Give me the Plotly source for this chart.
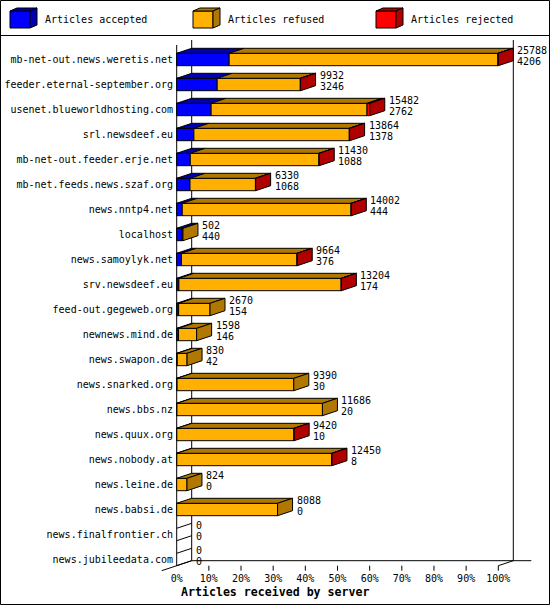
import plotly.graph_objects as go

servers = [
    'mb-net-out.news.weretis.net', 'feeder.eternal-september.org',
    'usenet.blueworldhosting.com', 'srl.newsdeef.eu',
    'mb-net-out.feeder.erje.net', 'mb-net.feeds.news.szaf.org',
    'news.nntp4.net', 'localhost', 'news.samoylyk.net', 'srv.newsdeef.eu',
    'feed-out.gegeweb.org', 'newnews.mind.de', 'news.swapon.de',
    'news.snarked.org', 'news.bbs.nz', 'news.quux.org', 'news.nobody.at',
    'news.leine.de', 'news.babsi.de', 'news.finalfrontier.ch',
    'news.jubileedata.com',
]
offered = [25788, 9932, 15482, 13864, 11430, 6330, 14002, 502, 9664, 13204,
           2670, 1598, 830, 9390, 11686, 9420, 12450, 824, 8088, 0, 0]
accepted = [4206, 3246, 2762, 1378, 1088, 1068, 444, 440, 376, 174,
            154, 146, 42, 30, 20, 10, 8, 0, 0, 0, 0]
refused = [21552, 6666, 12500, 12461, 10322, 5247, 13538, 62, 9273, 13015,
           2516, 1452, 788, 9360, 11666, 9400, 12430, 824, 8088, 0, 0]
rejected = [30, 20, 220, 25, 20, 15, 20, 0, 15, 15,
            0, 0, 0, 0, 0, 10, 12, 0, 0, 0, 0]
x_ticks = [0, 10, 20, 30, 40, 50, 60, 70, 80, 90, 100]

W, H = 550, 605
L, R, T, B = 157, 545, 38, 571      # plot area in px
X0_PX, PCT_PX = 176.7, 3.216        # where 0% sits, px per 1%
Y0_PX, ROW_PX = 59.5, 25.0          # first row centre, px per row
DX = 15 / PCT_PX                    # 3d depth, in % units
DY = 5 / ROW_PX                     # 3d rise, in row units
HALF = 6.2 / ROW_PX                 # half height of a bar front

colors = {'acc': '#0000ff', 'ref': '#ffb000', 'rej': '#ff0000'}
dark = {'acc': '#0000b0', 'ref': '#b07800', 'rej': '#b00000'}
FONT = 'DejaVu Sans Mono'

peak = max(offered)


def pct(v):
    return v * 100.0 / peak


def px_x(p):
    return (p - L) / (R - L)


def px_y(p):
    return (B - p) / (B - T)


def add_poly(store, xs, ys):
    store[0].extend(xs + [None])
    store[1].extend(ys + [None])


fronts = {k: ([], []) for k in colors}
tops = {k: ([], []) for k in colors}
sides = {k: ([], []) for k in colors}
empty = ([], [])

for i in range(len(servers)):
    a, r, j = pct(accepted[i]), pct(refused[i]), pct(rejected[i])
    segs = [('acc', 0, a), ('ref', a, a + r), ('rej', a + r, a + r + j)]
    yt, yb = i - HALF, i + HALF
    last = None
    for key, lo, hi in segs:
        if hi <= lo:
            continue
        last = (key, hi)
        add_poly(fronts[key], [lo, hi, hi, lo, lo], [yb, yb, yt, yt, yb])
        add_poly(tops[key], [lo, hi, hi + DX, lo + DX, lo],
                 [yt, yt, yt - DY, yt - DY, yt])
    if last is None:
        add_poly(empty, [0, DX], [yt, yt - DY])
        add_poly(empty, [0, DX], [yb, yb - DY])
    else:
        key, e = last
        add_poly(sides[key], [e, e + DX, e + DX, e, e],
                 [yb, yb - DY, yt - DY, yt, yb])

floor = len(servers) - 1 + HALF
back_top = (40 - Y0_PX) / ROW_PX
frame = ([], [])
add_poly(frame, [0, 0], [back_top + DY, floor])
add_poly(frame, [DX, DX], [back_top, floor - DY])
add_poly(frame, [100 + DX, 100 + DX], [back_top, floor - DY])
add_poly(frame, [DX, 100 + DX + 18 / PCT_PX], [floor - DY, floor - DY])
add_poly(frame, [-DX, DX], [floor + DY, floor - DY])
add_poly(frame, [100, 100 + DX], [floor, floor - DY])
for t in x_ticks[1:]:
    add_poly(frame, [t, t], [floor, floor + DY])

fig = go.Figure()
line = dict(color='black', width=1)
fig.add_trace(go.Scatter(x=frame[0], y=frame[1], mode='lines', line=line,
                         hoverinfo='skip'))
fig.add_trace(go.Scatter(x=empty[0], y=empty[1], mode='lines', line=line,
                         hoverinfo='skip'))
for group, palette in ((fronts, colors), (tops, dark), (sides, dark)):
    for key in colors:
        xs, ys = group[key]
        if not xs:
            continue
        fig.add_trace(go.Scatter(x=xs, y=ys, mode='lines', fill='toself',
                                 fillcolor=palette[key], line=line,
                                 hoverinfo='skip'))

annotations = []
for i in range(len(servers)):
    xe = pct(offered[i]) + DX
    for txt, dy in ((offered[i], -8.8), (accepted[i], 2.2)):
        annotations.append(dict(x=xe, y=i + dy / ROW_PX, xref='x', yref='y',
                                text=str(txt), showarrow=False,
                                xanchor='left', yanchor='middle', xshift=2,
                                font=dict(family=FONT, size=10, color='black')))

annotations.append(dict(x=px_x(274.5), y=px_y(591.5), xref='paper',
                        yref='paper', text='<b>Articles received by server</b>',
                        showarrow=False, xanchor='center', yanchor='middle',
                        font=dict(family=FONT, size=11.6, color='black')))

# legend: little 3d cubes plus labels
shapes = []
legend = [('acc', 10, 'Articles accepted', 42.5),
          ('ref', 193, 'Articles refused', 225.5),
          ('rej', 376, 'Articles rejected', 408.5)]
for key, cx, label, tx in legend:
    cy, cw, ch, cd, cr = 11, 20, 17, 7, 3

    def path(pts):
        return 'M ' + ' L '.join(f'{px_x(px)},{px_y(py)}' for px, py in pts) + ' Z'

    shapes.append(dict(type='path', xref='paper', yref='paper',
                       path=path([(cx, cy), (cx + cw, cy), (cx + cw, cy + ch), (cx, cy + ch)]),
                       fillcolor=colors[key], line=line))
    shapes.append(dict(type='path', xref='paper', yref='paper',
                       path=path([(cx, cy), (cx + cd, cy - cr), (cx + cw + cd, cy - cr), (cx + cw, cy)]),
                       fillcolor=dark[key], line=line))
    shapes.append(dict(type='path', xref='paper', yref='paper',
                       path=path([(cx + cw, cy), (cx + cw + cd, cy - cr),
                                  (cx + cw + cd, cy + ch - cr), (cx + cw, cy + ch)]),
                       fillcolor=dark[key], line=line))
    annotations.append(dict(x=px_x(tx), y=px_y(20), xref='paper', yref='paper',
                            text=label, showarrow=False, xanchor='left',
                            yanchor='middle',
                            font=dict(family=FONT, size=10, color='black')))

shapes.append(dict(type='rect', xref='paper', yref='paper',
                   x0=px_x(0.5), x1=px_x(549.5), y0=px_y(0.5), y1=px_y(604.5),
                   line=line))
shapes.append(dict(type='line', xref='paper', yref='paper',
                   x0=px_x(0.5), x1=px_x(549.5), y0=px_y(35.5), y1=px_y(35.5),
                   line=line))

fig.update_layout(
    width=W,
    height=H,
    margin=dict(l=L, r=W - R, t=T, b=H - B, pad=0),
    paper_bgcolor='white',
    plot_bgcolor='white',
    showlegend=False,
    annotations=annotations,
    shapes=shapes,
    xaxis=dict(
        range=[(L - X0_PX) / PCT_PX, (R - X0_PX) / PCT_PX],
        tickmode='array',
        tickvals=x_ticks,
        ticktext=[f'{t}%' for t in x_ticks],
        ticks='',
        showgrid=False,
        zeroline=False,
        showline=False,
        tickfont=dict(family=FONT, size=10, color='black'),
    ),
    yaxis=dict(
        range=[(B - Y0_PX) / ROW_PX, (T - Y0_PX) / ROW_PX],
        tickmode='array',
        tickvals=list(range(len(servers))),
        ticktext=servers,
        ticks='',
        showgrid=False,
        zeroline=False,
        showline=False,
        ticklabelstandoff=-17,
        tickfont=dict(family=FONT, size=10, color='black'),
    ),
)

# the page's default body margin would push the chart 8px off the window
fig.write_html('out.html', config={'displayModeBar': False},
               post_script="document.body.style.margin='0';")
